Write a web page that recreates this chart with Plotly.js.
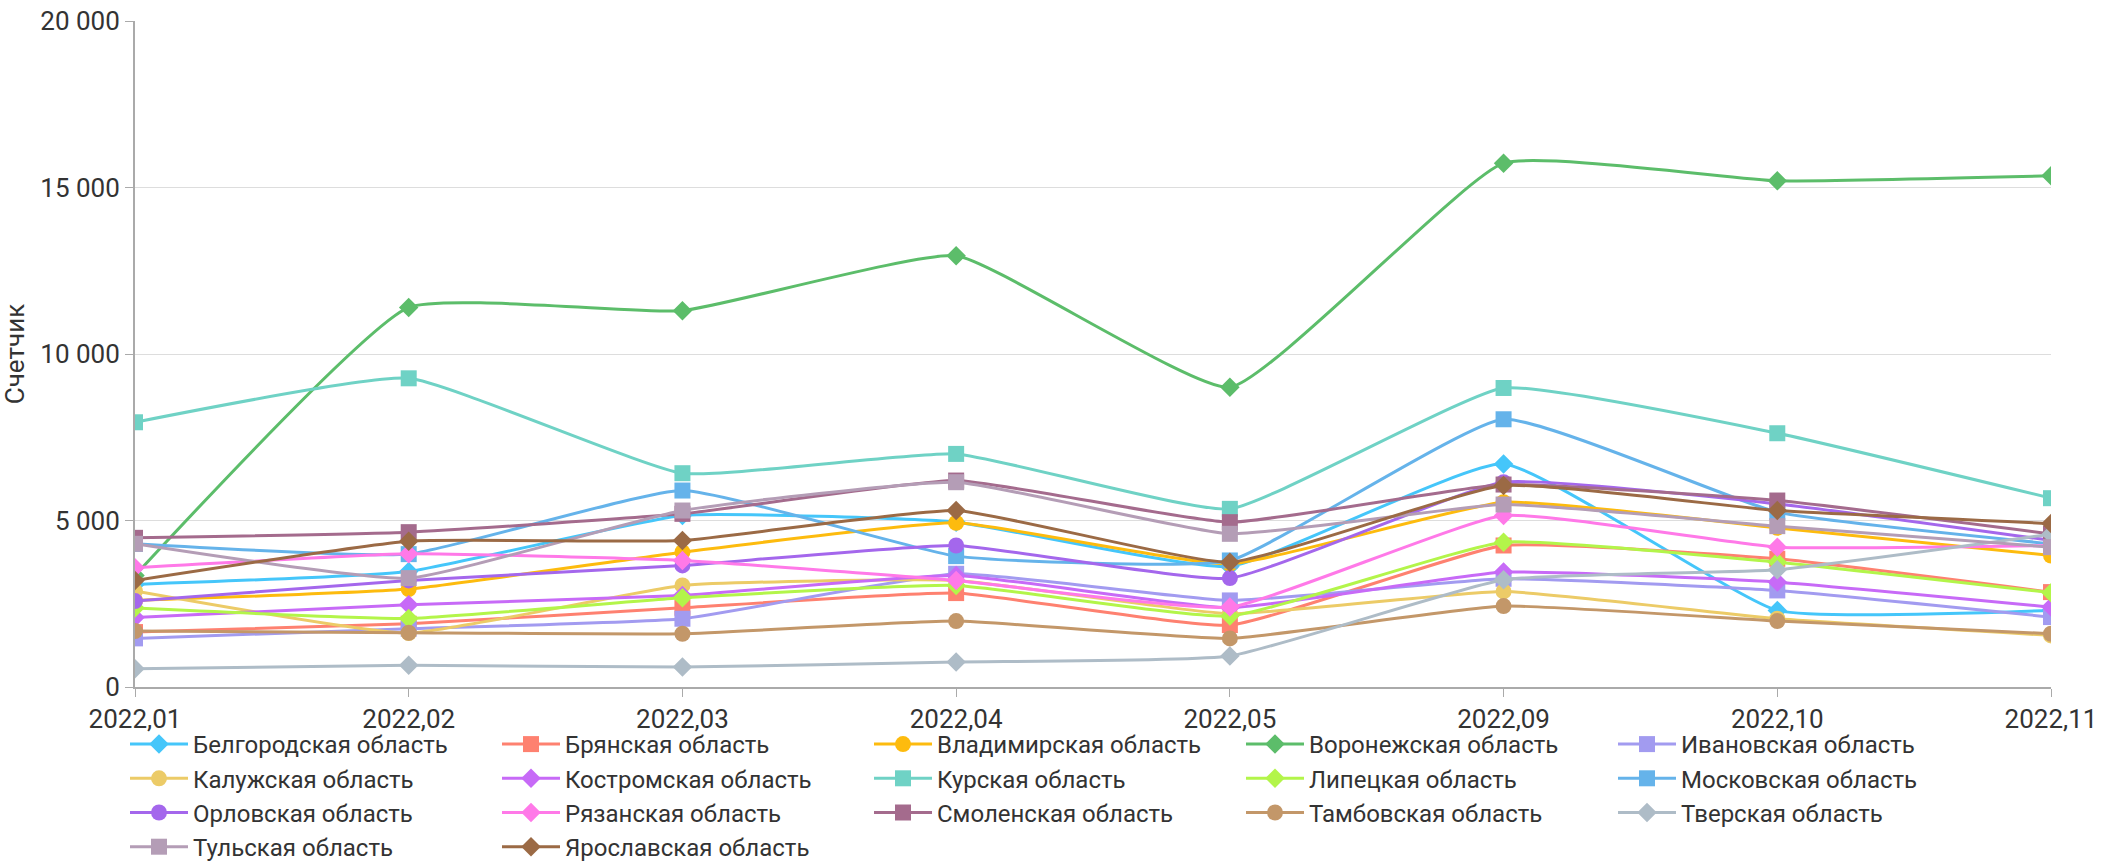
<!DOCTYPE html>
<html>
<head>
<meta charset="utf-8">
<script src="https://cdn.plot.ly/plotly-3.0.1.min.js"></script>
<style>
  html, body { margin: 0; padding: 0; background: #fff; }
  #chart { width: 2103px; height: 863px; }
</style>
</head>
<body>
<div id="chart"></div>
<script>
const months = ['2022,01', '2022,02', '2022,03', '2022,04', '2022,05', '2022,09', '2022,10', '2022,11'];

const belgorod   = [3080, 3470, 5150, 4950, 3620, 6700, 2300, 2300];
const bryansk    = [1650, 1900, 2380, 2820, 1860, 4250, 3850, 2850];
const vladimir   = [2600, 2940, 4050, 4930, 3700, 5550, 4780, 3950];
const voronezh   = [3350, 11400, 11300, 12950, 9000, 15730, 15200, 15350];
const ivanovo    = [1460, 1750, 2050, 3400, 2600, 3250, 2900, 2100];
const kaluga     = [2880, 1620, 3050, 3200, 2200, 2870, 2050, 1550];
const kostroma   = [2090, 2470, 2750, 3350, 2380, 3450, 3150, 2400];
const kursk      = [7950, 9270, 6420, 7000, 5350, 8980, 7620, 5670];
const lipetsk    = [2370, 2060, 2680, 3050, 2130, 4350, 3750, 2830];
const moscow     = [4300, 3990, 5900, 3930, 3800, 8040, 5250, 4300];
const orel       = [2580, 3200, 3650, 4250, 3270, 6150, 5500, 4400];
const ryazan     = [3580, 4000, 3800, 3200, 2400, 5150, 4200, 4250];
const smolensk   = [4480, 4650, 5200, 6200, 4950, 6080, 5600, 4600];
const tambov     = [1680, 1630, 1600, 1980, 1460, 2430, 1980, 1600];
const tver       = [550, 650, 600, 750, 930, 3220, 3520, 4590];
const tula       = [4300, 3270, 5300, 6150, 4600, 5480, 4830, 4200];
const yaroslavl  = [3200, 4380, 4400, 5300, 3750, 6050, 5300, 4910];

const yTickVals = [0, 5000, 10000, 15000, 20000];
const yTickText = ['0', '5 000', '10 000', '15 000', '20 000'];

const seriesNames = ['Белгородская область', 'Брянская область', 'Владимирская область', 'Воронежская область',
  'Ивановская область', 'Калужская область', 'Костромская область', 'Курская область', 'Липецкая область',
  'Московская область', 'Орловская область', 'Рязанская область', 'Смоленская область', 'Тамбовская область',
  'Тверская область', 'Тульская область', 'Ярославская область'];
const seriesValues = [belgorod, bryansk, vladimir, voronezh, ivanovo, kaluga, kostroma, kursk, lipetsk,
  moscow, orel, ryazan, smolensk, tambov, tver, tula, yaroslavl];
const seriesColors = ['#45c6fa', '#fe8170', '#fdbb0e', '#5cbd6a', '#a29bf0', '#eccb67', '#c76af7', '#6fd2c5',
  '#b3f54a', '#65b3ea', '#a467ec', '#ff79e8', '#a46b8d', '#c39769', '#aebcc7', '#b49db6', '#9b6a45'];
const seriesSymbols = ['diamond', 'square', 'circle', 'diamond', 'square', 'circle', 'diamond', 'square',
  'diamond', 'square', 'circle', 'diamond', 'square', 'circle', 'diamond', 'square', 'diamond'];

const traces = seriesNames.map((name, i) => ({
  type: 'scatter',
  mode: 'lines+markers',
  name: name,
  x: months,
  y: seriesValues[i],
  line: { color: seriesColors[i], width: 3, shape: 'spline', smoothing: 0.4 },
  marker: { color: seriesColors[i], symbol: seriesSymbols[i], size: seriesSymbols[i] === 'diamond' ? 15 : 16 }
}));

const font = "Roboto, 'Noto Sans', sans-serif";

const layout = {
  width: 2103,
  height: 863,
  margin: { l: 135, r: 52, t: 21, b: 176 },
  paper_bgcolor: '#ffffff',
  plot_bgcolor: '#ffffff',
  font: { family: font, size: 24, color: '#333333' },
  showlegend: true,
  xaxis: {
    type: 'category',
    range: [0, months.length - 1],
    showgrid: false,
    showline: true,
    linecolor: '#aaaaaa',
    linewidth: 2,
    ticks: 'outside',
    ticklen: 8,
    tickcolor: '#aaaaaa',
    tickwidth: 1,
    tickfont: { family: font, size: 26, color: '#333333' },
    zeroline: false,
    automargin: false
  },
  yaxis: {
    range: [0, 20000],
    tickmode: 'array',
    tickvals: yTickVals,
    ticktext: yTickText,
    showgrid: true,
    gridcolor: '#dddddd',
    gridwidth: 1,
    showline: true,
    linecolor: '#aaaaaa',
    linewidth: 2,
    ticks: 'outside',
    ticklen: 8,
    tickcolor: '#aaaaaa',
    tickfont: { family: font, size: 26, color: '#333333' },
    zeroline: false,
    automargin: false,
    title: { text: 'Счетчик', font: { family: font, size: 26, color: '#333333' }, standoff: 14 }
  },
  legend: {
    orientation: 'h',
    xref: 'container',
    yref: 'container',
    x: 125 / 2103,
    xanchor: 'left',
    y: 1 - 722 / 863,
    yanchor: 'top',
    entrywidth: 299,
    entrywidthmode: 'pixels',
    itemwidth: 58,
    bgcolor: 'rgba(0,0,0,0)',
    font: { family: font, size: 24, color: '#333333' },
    tracegroupgap: 0
  }
};

Plotly.newPlot('chart', traces, layout, { displayModeBar: false, staticPlot: true });
</script>
</body>
</html>
